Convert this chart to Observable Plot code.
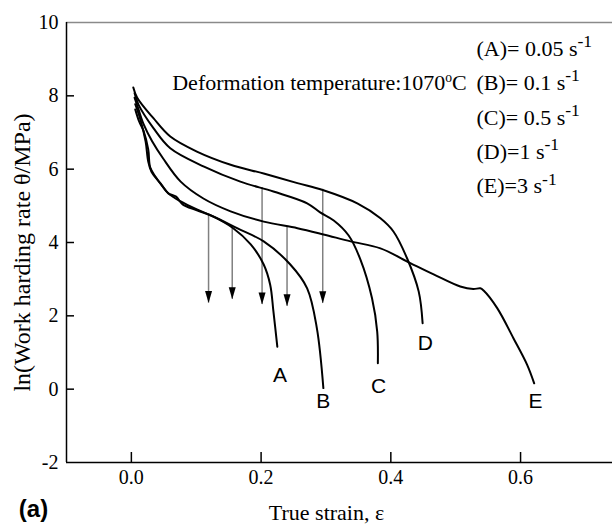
<!DOCTYPE html>
<html><head><meta charset="utf-8">
<script src="https://cdn.jsdelivr.net/npm/d3@7"></script>
<script src="https://cdn.jsdelivr.net/npm/@observablehq/plot@0.6"></script>
<style>html,body{margin:0;padding:0;background:#fff;overflow:hidden;} #chart svg{display:block;overflow:hidden;}</style>
</head><body><div id="chart"></div>
<script>
// ---- data ----
const strainA = [0.006,0.014,0.022,0.026,0.031,0.045,0.057,0.076,0.101,0.126,0.157,0.184,0.204,0.214,0.219,0.225];
const lnThetaA = [7.77,7.35,6.75,6.21,5.93,5.61,5.34,5.12,4.90,4.71,4.39,3.95,3.40,2.85,2.12,1.16];
const strainB = [0.006,0.012,0.019,0.026,0.029,0.037,0.048,0.057,0.069,0.079,0.101,0.126,0.163,0.204,0.245,0.271,0.286,0.296];
const lnThetaB = [7.63,7.30,7.03,6.54,6.05,5.80,5.53,5.34,5.25,5.04,4.88,4.71,4.39,4.03,3.40,2.75,1.66,0.03];
const strainC = [0.005,0.011,0.034,0.060,0.112,0.168,0.219,0.271,0.291,0.312,0.335,0.353,0.371,0.379,0.380];
const lnThetaC = [8.07,7.76,7.12,6.57,6.07,5.66,5.39,5.07,4.82,4.60,4.19,3.54,2.48,1.57,0.71];
const strainD = [0.003,0.009,0.034,0.060,0.101,0.153,0.204,0.256,0.295,0.349,0.384,0.404,0.425,0.443,0.449];
const lnThetaD = [8.23,7.95,7.39,6.89,6.48,6.12,5.88,5.62,5.43,5.06,4.66,4.30,3.57,2.66,1.80];
const strainE = [0.005,0.011,0.019,0.032,0.049,0.076,0.111,0.153,0.204,0.256,0.296,0.338,0.384,0.430,0.466,0.507,0.527,0.538,0.543,0.564,0.589,0.610,0.621];
const lnThetaE = [7.95,7.63,7.22,6.76,6.29,5.66,5.20,4.85,4.57,4.39,4.22,4.03,3.84,3.44,3.13,2.80,2.73,2.75,2.69,2.21,1.39,0.67,0.16];

const curveNames = ["A","B","C","D","E"];
const labelStrain = [0.229,0.296,0.381,0.453,0.623];
const labelLnTheta = [0.39,-0.34,0.07,1.25,-0.33];

const arrowStrain = [0.119,0.1555,0.2015,0.240,0.295];
const arrowTop = [4.76,4.38,5.50,4.41,5.45];
const arrowTip = [2.35,2.45,2.31,2.26,2.34];

const legendLines = ["(A)= 0.05 s{-1}","(B)= 0.1 s{-1}","(C)= 0.5 s{-1}","(D)=1 s{-1}","(E)=3 s{-1}"];
const legendLnTheta = [9.29,8.35,7.41,6.47,5.53];
const legendStrain = 0.532;
const tempText = "Deformation temperature:1070{o}C";
const tempStrain = 0.063, tempLnTheta = 8.34;

const xTicks = [0.0,0.2,0.4,0.6];
const xTickLabels = ["0.0","0.2","0.4","0.6"];
const yTicks = [-2,0,2,4,6,8,10];
const yTickLabels = ["-2","0","2","4","6","8","10"];
const xDomain = [-0.1, 0.7109];
const yDomain = [-2, 10];

// ---- build tables ----
const series = [[strainA,lnThetaA],[strainB,lnThetaB],[strainC,lnThetaC],[strainD,lnThetaD],[strainE,lnThetaE]];
const curves = series.flatMap(([xs,ys],i)=>xs.map((x,j)=>({name:curveNames[i],x,y:ys[j]})));
const labels = curveNames.map((n,i)=>({n,x:labelStrain[i],y:labelLnTheta[i]}));
const arrows = arrowStrain.map((x,i)=>({x,y1:arrowTop[i],y2:arrowTip[i]}));
const legend = legendLines.map((t,i)=>({t,x:legendStrain,y:legendLnTheta[i]}));
const yTickData = yTicks.map((v,i)=>({v,t:yTickLabels[i]}));
const xTickData = xTicks.map((v,i)=>({v,t:xTickLabels[i]}));

const arrowHead = {draw(ctx){ctx.moveTo(0,0);ctx.lineTo(-3.5,-12);ctx.lineTo(3.5,-12);ctx.closePath();}};

const serif = "Liberation Serif";
const sans = "Liberation Sans";
const W = 612, H = 531, ML = 66, MR = 20, MT = 22, MB = 69;
// tick lengths (8px, 10px) expressed in scale units
const tickLenX = 8 * (xDomain[1] - xDomain[0]) / (W - ML - MR);
const tickLenY = 10 * (yDomain[1] - yDomain[0]) / (H - MT - MB);

const chart = Plot.plot({
  width: W, height: H,
  marginLeft: ML, marginRight: MR, marginTop: MT, marginBottom: MB,
  style: {fontFamily: serif, fontSize: "20px", color: "#000", background: "#fff", overflow: "hidden"},
  x: {domain: xDomain, axis: null},
  y: {domain: yDomain, axis: null},
  marks: [
    Plot.ruleY([yDomain[1]], {stroke: "#8a8a8a", strokeWidth: 1.3, insetRight: -MR}),
    Plot.ruleX([xDomain[0]], {stroke: "#000", strokeWidth: 1.5}),
    Plot.ruleY([yDomain[0]], {stroke: "#000", strokeWidth: 1.5, insetRight: -MR}),
    // inward tick marks
    Plot.ruleY(yTicks.slice(1, -1), {y: d => d, x1: xDomain[0], x2: xDomain[0] + tickLenX, stroke: "#000", strokeWidth: 1.5}),
    Plot.ruleX(xTicks, {x: d => d, y1: yDomain[0], y2: yDomain[0] + tickLenY, stroke: "#000", strokeWidth: 1.5}),
    // tick labels
    Plot.text(yTickData, {y: "v", text: "t", frameAnchor: "left", textAnchor: "end", dx: -8, fontSize: 20, fontFamily: serif}),
    Plot.text(xTickData, {x: "v", text: "t", frameAnchor: "bottom", dy: 21, fontSize: 20, fontFamily: serif}),
    Plot.ruleX(arrows, {x: "x", y1: "y1", y2: "y2", stroke: "#808080", strokeWidth: 1.5}),
    Plot.dot(arrows, {x: "x", y: "y2", symbol: arrowHead, fill: "#000", stroke: null}),
    Plot.line(curves, {x: "x", y: "y", z: "name", stroke: "#000", strokeWidth: 2, curve: "catmull-rom"}),
    Plot.text(labels, {x: "x", y: "y", text: "n", fontFamily: sans, fontSize: 21}),
    Plot.text(legend, {x: "x", y: "y", text: "t", textAnchor: "start", fontSize: 22, fontFamily: serif}),
    Plot.text([tempText], {x: () => tempStrain, y: () => tempLnTheta, text: d => d, textAnchor: "start", fontSize: 22, fontFamily: serif}),
    Plot.text(["True strain, ε"], {frameAnchor: "bottom", dy: 57, dx: -3, fontSize: 22, fontFamily: serif}),
    Plot.text(["ln(Work harding rate θ/MPa)"], {frameAnchor: "left", textAnchor: "middle", dx: -44, dy: 10, rotate: -90, fontSize: 24, fontFamily: serif}),
    Plot.text(["(a)"], {frameAnchor: "bottom-left", textAnchor: "middle", dx: -33, dy: 54, fontFamily: sans, fontWeight: "bold", fontSize: 24})
  ]
});

// superscripts: replace {..} with raised tspans
d3.select(chart).selectAll("text").each(function(){
  const el = this;
  if (el.querySelector("tspan")) return;
  const s = el.textContent;
  if (!s.includes("{")) return;
  el.textContent = "";
  const parts = s.split(/(\{[^}]*\})/);
  let raised = false;
  for (const p of parts) {
    if (!p) continue;
    const ts = document.createElementNS("http://www.w3.org/2000/svg","tspan");
    if (p.startsWith("{")) {
      ts.textContent = p.slice(1,-1);
      const small = p === "{o}";
      ts.setAttribute("font-size", small ? "0.62em" : "0.8em");
      ts.setAttribute("dy", small ? "-0.6em" : "-0.5em");
      raised = true;
    } else {
      ts.textContent = p;
      if (raised) { ts.setAttribute("dy","0.372em"); raised = false; }
    }
    el.appendChild(ts);
  }
});
document.getElementById("chart").appendChild(chart);
</script>
</body></html>
